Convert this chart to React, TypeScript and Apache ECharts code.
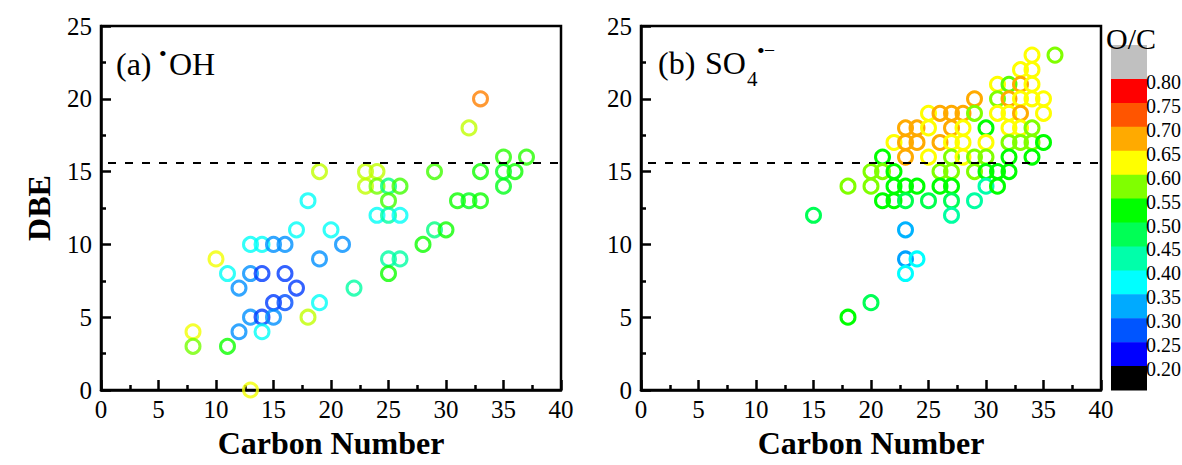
import React, { useEffect, useRef } from "react";
import * as echarts from "echarts";

// [carbon number, DBE, O/C]
const OH_POINTS: [number, number, number][] = [
  [8, 4, 0.62], [8, 3, 0.57], [10, 9, 0.62], [11, 8, 0.38], [11, 3, 0.53],
  [12, 7, 0.31], [12, 4, 0.31], [13, 10, 0.38], [13, 8, 0.31], [13, 5, 0.31], [13, 0, 0.62],
  [14, 10, 0.38], [14, 8, 0.26], [14, 5, 0.26], [14, 4, 0.38],
  [15, 10, 0.31], [15, 6, 0.26], [15, 5, 0.31],
  [16, 10, 0.31], [16, 8, 0.26], [16, 6, 0.27],
  [17, 11, 0.38], [17, 7, 0.26],
  [18, 13, 0.38], [18, 5, 0.6],
  [19, 15, 0.6], [19, 9, 0.31], [19, 6, 0.38],
  [20, 11, 0.38], [21, 10, 0.31], [22, 7, 0.43],
  [23, 15, 0.6], [23, 14, 0.6],
  [24, 15, 0.6], [24, 14, 0.57], [24, 12, 0.38],
  [25, 14, 0.45], [25, 13, 0.55], [25, 12, 0.43], [25, 9, 0.43], [25, 8, 0.53],
  [26, 14, 0.55], [26, 12, 0.38], [26, 9, 0.43],
  [28, 10, 0.53], [29, 15, 0.55], [29, 11, 0.45], [30, 11, 0.53],
  [31, 13, 0.53], [32, 13, 0.51], [33, 13, 0.53],
  [32, 18, 0.6], [33, 20, 0.7], [33, 15, 0.53],
  [35, 16, 0.54], [35, 15, 0.51], [35, 14, 0.51], [36, 15, 0.53], [37, 16, 0.54],
];

const SO4_POINTS: [number, number, number][] = [
  [34, 23, 0.625], [36, 23, 0.575],
  [33, 22, 0.625], [34, 22, 0.625],
  [31, 21, 0.625], [32, 21, 0.56], [33, 21, 0.675], [34, 21, 0.625],
  [29, 20, 0.675], [31, 20, 0.575], [32, 20, 0.675], [33, 20, 0.625], [34, 20, 0.625], [35, 20, 0.625],
  [25, 19, 0.625], [26, 19, 0.675], [27, 19, 0.675], [28, 19, 0.675], [29, 19, 0.575],
  [31, 19, 0.625], [32, 19, 0.625], [33, 19, 0.675], [35, 19, 0.625],
  [23, 18, 0.675], [24, 18, 0.675], [25, 18, 0.625], [27, 18, 0.675], [28, 18, 0.625],
  [30, 18, 0.525], [32, 18, 0.625], [33, 18, 0.625], [34, 18, 0.575],
  [22, 17, 0.625], [23, 17, 0.675], [24, 17, 0.675], [26, 17, 0.675], [27, 17, 0.625],
  [28, 17, 0.625], [30, 17, 0.625], [32, 17, 0.575], [33, 17, 0.575], [34, 17, 0.575], [35, 17, 0.525],
  [21, 16, 0.525], [23, 16, 0.675], [25, 16, 0.625], [27, 16, 0.575], [28, 16, 0.625],
  [29, 16, 0.575], [30, 16, 0.575], [32, 16, 0.525], [34, 16, 0.525],
  [20, 15, 0.575], [21, 15, 0.575], [22, 15, 0.525], [26, 15, 0.575], [27, 15, 0.575],
  [29, 15, 0.575], [30, 15, 0.525], [31, 15, 0.525], [32, 15, 0.525],
  [18, 14, 0.575], [20, 14, 0.575], [22, 14, 0.525], [23, 14, 0.525], [24, 14, 0.525],
  [26, 14, 0.525], [27, 14, 0.525], [30, 14, 0.425], [31, 14, 0.525],
  [21, 13, 0.525], [22, 13, 0.525], [23, 13, 0.48], [25, 13, 0.48], [27, 13, 0.475], [29, 13, 0.43],
  [15, 12, 0.475], [27, 12, 0.43],
  [23, 11, 0.33], [23, 9, 0.32], [24, 9, 0.375], [23, 8, 0.375],
  [20, 6, 0.475], [18, 5, 0.525],
];

const DBE_REFERENCE = 15.6;
const OC_LABELS = ["0.80", "0.75", "0.70", "0.65", "0.60", "0.55", "0.50", "0.45", "0.40", "0.35", "0.30", "0.25", "0.20"];
const OC_COLORS = [
  "#c0c0c0", "#ff0000", "#ff5500", "#ffaa00", "#ffff00", "#80ff00", "#00ff00",
  "#00ff55", "#00ffaa", "#00ffff", "#00aaff", "#0055ff", "#0000ff", "#000000",
];

const FONT = "'Liberation Serif', serif";

function hexToRgb(h: string): number[] {
  const n = parseInt(h.slice(1), 16);
  return [(n >> 16) & 255, (n >> 8) & 255, n & 255];
}

// piece centres: red 0.775 ... blue 0.225
function ocColor(v: number): string {
  const stops: { v: number; c: number[] }[] = [];
  for (let i = 1; i <= 12; i++) {
    stops.push({ v: 0.8 - 0.025 - 0.05 * (i - 1), c: hexToRgb(OC_COLORS[i]) });
  }
  stops.reverse();
  if (v <= stops[0].v) return `rgb(${stops[0].c.join(",")})`;
  if (v >= stops[stops.length - 1].v) return `rgb(${stops[stops.length - 1].c.join(",")})`;
  for (let i = 0; i < stops.length - 1; i++) {
    const a = stops[i], b = stops[i + 1];
    if (v >= a.v && v <= b.v) {
      const t = (v - a.v) / (b.v - a.v);
      const c = a.c.map((x, k) => Math.round(x + (b.c[k] - x) * t));
      return `rgb(${c.join(",")})`;
    }
  }
  return "#000";
}

export default function App() {
  const ref = useRef<HTMLDivElement>(null);
  useEffect(() => {
    if (!ref.current) return;
    const chart = echarts.init(ref.current, undefined, { renderer: "svg" });

    const grids = [
      { left: 101, top: 26, width: 460, height: 364 },
      { left: 641, top: 26, width: 460, height: 364 },
    ];

    const mkX = (gi: number) => ({
      type: "value",
      gridIndex: gi,
      min: 0,
      max: 40,
      interval: 5,
      name: "Carbon Number",
      nameLocation: "middle",
      nameGap: 34,
      nameTextStyle: { fontFamily: FONT, fontSize: 32, fontWeight: "bold", color: "#000" },
      axisLine: { show: true, onZero: false, lineStyle: { color: "#000", width: 2.5 } },
      axisTick: { show: true, inside: true, length: 10, lineStyle: { color: "#000", width: 2.5 } },
      minorTick: { show: true, splitNumber: 2, length: 5, lineStyle: { color: "#000", width: 2.5 } },
      splitLine: { show: false },
      minorSplitLine: { show: false },
      axisLabel: { fontFamily: FONT, fontSize: 25, color: "#000", margin: 7 },
    });
    const mkY = (gi: number, withName: boolean) => ({
      type: "value",
      gridIndex: gi,
      min: 0,
      max: 25,
      interval: 5,
      name: withName ? "DBE" : "",
      nameLocation: "middle",
      nameGap: 46,
      nameTextStyle: { fontFamily: FONT, fontSize: 32, fontWeight: "bold", color: "#000" },
      axisLine: { show: true, onZero: false, lineStyle: { color: "#000", width: 2.5 } },
      axisTick: { show: true, inside: true, length: 10, lineStyle: { color: "#000", width: 2.5 } },
      minorTick: { show: true, splitNumber: 2, length: 5, lineStyle: { color: "#000", width: 2.5 } },
      splitLine: { show: false },
      minorSplitLine: { show: false },
      axisLabel: { fontFamily: FONT, fontSize: 25, color: "#000", margin: 9 },
    });

    const mkSeries = (pts: [number, number, number][], gi: number, opacity: number) => ({
      type: "scatter",
      xAxisIndex: gi,
      yAxisIndex: gi,
      symbol: "circle",
      symbolSize: 14,
      clip: false,
      data: pts.map((p) => ({
        value: [p[0], p[1], p[2]],
        itemStyle: { color: "rgba(255,255,255,0)", borderColor: ocColor(p[2]), borderWidth: 3, opacity },
      })),
      markLine: {
        silent: true,
        symbol: ["none", "none"],
        label: { show: false },
        lineStyle: { color: "#000", width: 2, type: [8, 9], dashOffset: 10 },
        data: [{ yAxis: DBE_REFERENCE }],
      },
    });

    // colour bar
    const cbX = 1111, cbW = 36, cbTop = 45, greyBottom = 79, cbBottom = 390;
    const pieceH = (cbBottom - greyBottom) / 13;
    const graphics: any[] = [];
    OC_COLORS.forEach((c, i) => {
      const y0 = i === 0 ? cbTop : greyBottom + (i - 1) * pieceH;
      const h = i === 0 ? greyBottom - cbTop : pieceH;
      graphics.push({ type: "rect", shape: { x: cbX, y: y0, width: cbW, height: h + 0.5 }, style: { fill: c }, silent: true });
    });
    OC_LABELS.forEach((t, i) => {
      graphics.push({
        type: "text",
        x: 1146,
        y: greyBottom + i * pieceH + 3,
        style: { text: t, font: `20px ${FONT}`, fill: "#000", align: "left", verticalAlign: "middle", textAlign: "left", textVerticalAlign: "middle" },
        silent: true,
      });
    });
    graphics.push({
      type: "text", x: 1131, y: 38,
      style: { text: "O/C", font: `30px ${FONT}`, fill: "#000", align: "center", verticalAlign: "middle", textAlign: "center", textVerticalAlign: "middle" },
    });

    // panel titles
    const txt = (text: string, x: number, y: number, size: number) => ({
      type: "text", x, y,
      style: { text, font: `${size}px ${FONT}`, fill: "#000", align: "left", verticalAlign: "middle", textAlign: "left", textVerticalAlign: "middle" },
    });
    graphics.push(txt("(a)", 116, 64, 32));
    graphics.push(txt("\u2022", 159, 53, 22));
    graphics.push(txt("OH", 169, 64, 32));
    graphics.push(txt("(b)", 658, 63, 32));
    graphics.push(txt("SO", 705, 63, 32));
    graphics.push(txt("4", 747, 79, 21));
    graphics.push(txt("\u2022", 757, 50, 22));
    graphics.push(txt("\u2013", 765, 49, 18));

    chart.setOption({
      animation: false,
      backgroundColor: "#fff",
      textStyle: { fontFamily: FONT },
      grid: grids.map((g) => ({ ...g, show: true, borderColor: "#000", borderWidth: 2.5, backgroundColor: "transparent" })),
      xAxis: [mkX(0), mkX(1)],
      yAxis: [mkY(0, true), mkY(1, false)],
      series: [mkSeries(OH_POINTS, 0, 0.8), mkSeries(SO4_POINTS, 1, 1)],
      graphic: graphics,
    });

    return () => chart.dispose();
  }, []);

  return <div ref={ref} style={{ position: "absolute", left: 0, top: 0, width: 1182, height: 465 }} />;
}
